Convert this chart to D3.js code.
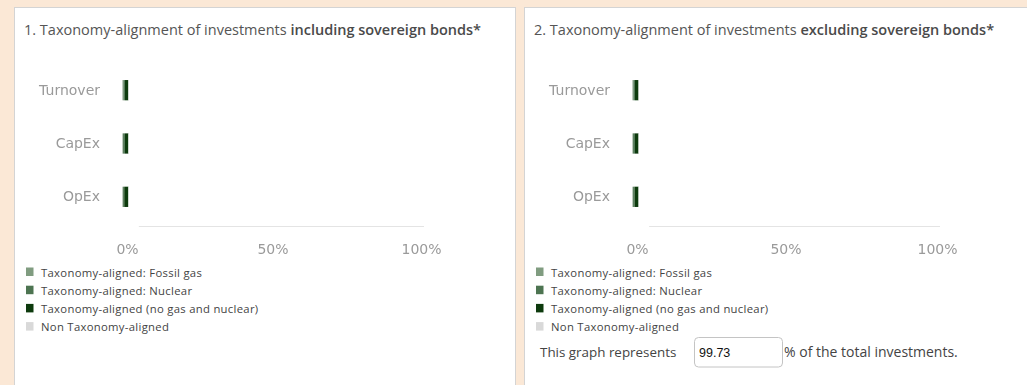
<!DOCTYPE html>
<html>
<head>
<meta charset="utf-8">
<script src="https://cdn.jsdelivr.net/npm/d3@7/dist/d3.min.js"></script>
<style>
  html, body { margin: 0; padding: 0; background: #fbe8d6; }
  svg { display: block; }
</style>
</head>
<body>
<svg id="page" width="1027" height="385"></svg>
<script>
// Categories and stacked series (percent of investments)
const categories = ["Turnover", "CapEx", "OpEx"];
const seriesNames = [
  "Taxonomy-aligned: Fossil gas",
  "Taxonomy-aligned: Nuclear",
  "Taxonomy-aligned (no gas and nuclear)",
  "Non Taxonomy-aligned"
];
const seriesColors = ["#809c80", "#4d7451", "#0d3a0d", "#d9d9d9"];

// Chart 1: including sovereign bonds
const fossilGas1 = [0.3, 0.2, 0.2];
const nuclear1   = [0.5, 0.6, 0.4];
const aligned1   = [1.2, 1.2, 1.4];
const nonAligned1 = [98.0, 98.0, 98.0];

// Chart 2: excluding sovereign bonds
const fossilGas2 = [0.3, 0.2, 0.2];
const nuclear2   = [0.5, 0.6, 0.5];
const aligned2   = [1.2, 1.2, 1.3];
const nonAligned2 = [98.0, 98.0, 98.0];

const tickValues = [0, 50, 100];
const coverageShare = "99.73";

const titles = [
  ["1. Taxonomy-alignment of investments ", "including sovereign bonds*"],
  ["2. Taxonomy-alignment of investments ", "excluding sovereign bonds*"]
];

const uiFont = "'Open Sans', 'Noto Sans', sans-serif";
const chartFont = "'DejaVu Sans', sans-serif";

const svg = d3.select("#page");

const defs = svg.append("defs");
defs.append("filter").attr("id", "soft")
  .attr("x", "-20%").attr("y", "-20%").attr("width", "140%").attr("height", "140%")
  .append("feGaussianBlur").attr("stdDeviation", 0.55);

function buildRows(fg, nu, al, na) {
  return categories.map((c, i) => ({
    category: c,
    values: [fg[i], nu[i], al[i], na[i]]
  }));
}

const panels = [
  { left: 14, right: 515, rows: buildRows(fossilGas1, nuclear1, aligned1, nonAligned1),
    labelRight: 100, x0: 124, x1: 421, footer: false },
  { left: 524, right: 1040, rows: buildRows(fossilGas2, nuclear2, aligned2, nonAligned2),
    labelRight: 610, x0: 634, x1: 937, footer: true }
];

panels.forEach((p, pi) => {
  const g = svg.append("g");

  // white card
  g.append("rect")
    .attr("x", p.left + 0.5).attr("y", 7.5)
    .attr("width", p.right - p.left).attr("height", 400)
    .attr("fill", "#ffffff").attr("stroke", "#d4d4d4");

  // title
  const title = g.append("text")
    .attr("x", p.left + 10).attr("y", 35)
    .attr("font-family", uiFont)
    .attr("font-size", 14.5).attr("fill", "#555");
  title.append("tspan").text(titles[pi][0]);
  title.append("tspan").attr("font-weight", 600).attr("fill", "#4a4a4a").text(titles[pi][1]);

  // chart
  const x = d3.scaleLinear().domain([0, 100]).range([p.x0, p.x1]);
  const y = d3.scaleBand().domain(categories).range([63.5, 223.5]).paddingInner(0.62).paddingOuter(0.31);

  const chart = g.append("g").attr("filter", "url(#soft)");

  // baseline
  chart.append("line")
    .attr("x1", x(5)).attr("x2", x(101))
    .attr("y1", 226.5).attr("y2", 226.5)
    .attr("stroke", "#e4e4e4");

  const stackInput = p.rows.map(r => {
    const o = { category: r.category };
    r.values.forEach((v, k) => o[seriesNames[k]] = v);
    return o;
  });
  const stacked = d3.stack().keys(seriesNames)(stackInput);

  chart.selectAll("g.series")
    .data(stacked)
    .join("g")
    .attr("class", "series")
    .attr("fill", (d, k) => k === 3 ? "#ffffff" : seriesColors[k])
    .selectAll("rect")
    .data(d => d)
    .join("rect")
    .attr("x", d => x(d[0]) - 1.5)
    .attr("width", d => Math.max(0, x(d[1]) - x(d[0])))
    .attr("y", d => y(d.data.category))
    .attr("height", y.bandwidth());

  // category axis
  const yAxis = chart.append("g")
    .attr("transform", `translate(${p.labelRight},0)`)
    .call(d3.axisLeft(y).tickSize(0).tickPadding(0));
  yAxis.select(".domain").remove();
  yAxis.selectAll("text")
    .attr("font-family", chartFont)
    .attr("font-size", 14).attr("fill", "#9a9a9a");

  // value axis
  const xAxis = chart.append("g")
    .attr("transform", "translate(0,244.5)")
    .call(d3.axisBottom(x).tickValues(tickValues).tickFormat(d => d + "%").tickSize(0).tickPadding(0));
  xAxis.select(".domain").remove();
  xAxis.selectAll("text")
    .attr("dy", "0.71em")
    .attr("font-family", chartFont)
    .attr("font-size", 14).attr("fill", "#9a9a9a");
  xAxis.selectAll(".tick").filter(d => d === 0).select("text").attr("dx", 3);

  // legend
  const legend = g.append("g")
    .selectAll("g")
    .data(seriesNames)
    .join("g")
    .attr("transform", (d, k) => `translate(${p.left + 12},${273 + k * 18.2})`);
  legend.append("rect")
    .attr("x", 0).attr("y", -5.5).attr("width", 7.5).attr("height", 8.5)
    .attr("fill", (d, k) => seriesColors[k]);
  legend.append("text")
    .attr("x", 15).attr("y", 0).attr("dy", "0.32em")
    .attr("font-family", uiFont)
    .attr("font-size", 11.3).attr("letter-spacing", 0.3).attr("fill", "#444")
    .text(d => d);

  if (p.footer) {
    const fy = 357;
    g.append("text")
      .attr("x", p.left + 16).attr("y", fy)
      .attr("font-family", uiFont)
      .attr("font-size", 13.4).attr("fill", "#444")
      .text("This graph represents");
    g.append("rect")
      .attr("x", 694.5).attr("y", 337.5).attr("width", 88).attr("height", 29.5).attr("rx", 4)
      .attr("fill", "#fff").attr("stroke", "#c4c4c4");
    g.append("text")
      .attr("x", 699).attr("y", fy - 0.5)
      .attr("font-family", "'Liberation Sans', Arial, sans-serif")
      .attr("font-size", 12.5).attr("fill", "#111")
      .text(coverageShare);
    g.append("text")
      .attr("x", 784).attr("y", fy)
      .attr("font-family", uiFont)
      .attr("font-size", 14).attr("fill", "#444")
      .text("% of the total investments.");
  }
});
</script>
</body>
</html>
